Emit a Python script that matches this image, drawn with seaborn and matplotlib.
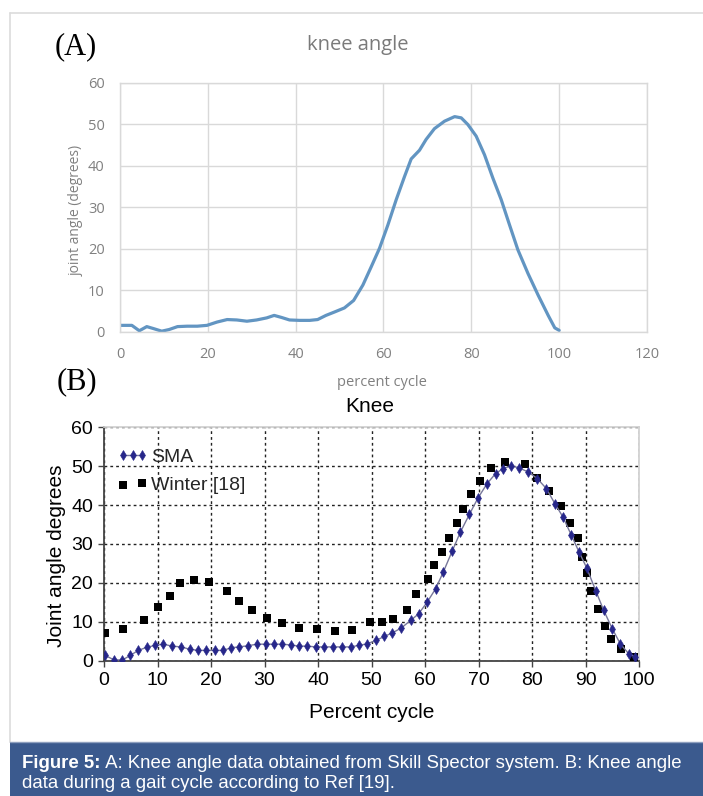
import matplotlib
matplotlib.use("Agg")
import matplotlib.pyplot as plt
from matplotlib.patches import Rectangle
from matplotlib.lines import Line2D
import seaborn as sns
import numpy as np

# ---------------- data ----------------
# Panel A: knee angle (Skill Spector)
a_x = [0.0, 2.7, 4.4, 6.1, 7.7, 9.5, 11.2, 13.1, 15.3, 17.6, 19.8, 22.1, 24.4, 26.6,
       28.9, 31.1, 33.4, 35.1, 36.8, 38.6, 40.9, 43.2, 45.0, 46.9, 48.8, 51.1, 53.2,
       55.3, 57.2, 59.1, 61.0, 62.9, 64.8, 66.3, 68.2, 69.7, 71.6, 73.9, 76.2, 77.7,
       79.2, 81.1, 83.0, 84.9, 86.8, 88.7, 90.6, 92.9, 95.2, 97.5, 99.0, 100.0]
a_y = [1.6, 1.6, 0.3, 1.3, 0.8, 0.2, 0.6, 1.3, 1.4, 1.4, 1.6, 2.4, 3.0, 2.9,
       2.6, 2.9, 3.4, 4.0, 3.5, 2.9, 2.8, 2.8, 3.0, 4.0, 4.8, 5.8, 7.6,
       11.3, 15.7, 20.2, 25.8, 31.9, 37.5, 41.7, 43.8, 46.4, 49.0, 50.8, 51.9, 51.6,
       50.0, 47.2, 42.7, 37.1, 31.9, 25.8, 19.8, 14.1, 8.9, 4.0, 1.0, 0.4]

# Panel B: SMA
sma_x = [0.1, 1.8, 3.4, 4.9, 6.4, 8.0, 9.6, 11.1, 12.7, 14.4, 16.0, 17.6, 19.1, 20.7,
         22.3, 23.8, 25.3, 26.9, 28.6, 30.2, 31.8, 33.3, 34.9, 36.5, 38.0, 39.6, 41.2,
         42.8, 44.4, 46.1, 47.7, 49.2, 50.9, 52.4, 53.9, 55.6, 57.3, 58.8, 60.4, 62.0,
         63.4, 65.1, 66.6, 68.3, 69.9, 71.6, 73.2, 74.5, 76.0, 77.5, 79.3, 81.0, 82.7,
         84.3, 85.8, 87.3, 88.8, 90.2, 91.9, 93.4, 95.0, 96.5, 98.1, 99.3]
sma_y = [1.4, 0.2, 0.1, 1.3, 2.6, 3.4, 3.9, 4.2, 3.7, 3.5, 2.9, 2.6, 2.6, 2.6,
         2.6, 3.3, 3.5, 3.8, 4.2, 4.2, 4.2, 4.2, 4.0, 3.7, 3.7, 3.5, 3.5,
         3.5, 3.5, 3.5, 3.9, 4.3, 5.2, 6.2, 7.1, 8.4, 10.3, 12.0, 15.0, 18.5,
         22.7, 28.2, 33.0, 37.6, 41.8, 45.5, 48.1, 49.3, 50.1, 49.6, 48.5, 46.8, 44.2,
         40.3, 36.9, 32.4, 27.9, 23.9, 18.0, 12.9, 8.2, 4.3, 1.7, 0.9]

# Panel B: Winter [18]
win_x = [0.2, 3.6, 7.4, 10.1, 12.3, 14.2, 16.9, 19.7, 22.9, 25.2, 27.6, 30.5, 33.2,
         36.4, 39.9, 43.1, 46.3, 49.8, 52.0, 54.0, 56.6, 58.4, 60.6, 61.7, 63.1, 64.5,
         66.0, 67.1, 68.6, 70.3, 72.4, 75.0, 78.7, 81.0, 83.1, 85.5, 87.1, 88.6, 89.3,
         90.3, 91.1, 92.4, 93.7, 94.8, 96.7, 99.0]
win_y = [7.2, 8.1, 10.5, 13.8, 16.7, 19.9, 20.6, 20.2, 17.8, 15.2, 13.0, 11.0, 9.7,
         8.3, 8.1, 7.7, 7.8, 9.9, 9.8, 10.6, 13.0, 17.0, 21.0, 24.5, 27.9, 31.4,
         35.4, 39.1, 42.9, 46.2, 49.4, 51.2, 50.5, 47.0, 43.6, 39.7, 35.5, 31.5, 26.6,
         22.5, 18.0, 13.2, 8.8, 5.6, 3.0, 1.0]

a_xticks = [0, 20, 40, 60, 80, 100, 120]
a_yticks = [0, 10, 20, 30, 40, 50, 60]
b_xticks = [0, 10, 20, 30, 40, 50, 60, 70, 80, 90, 100]
b_yticks = [0, 10, 20, 30, 40, 50, 60]

caption_bold = "Figure 5:"
caption_line1 = " A: Knee angle data obtained from Skill Spector system. B: Knee angle"
caption_line2 = "data during a gait cycle according to Ref [19]."

# ---------------- figure ----------------
sns.set_theme(style="white")
plt.rcParams['font.family'] = ['Liberation Sans', 'DejaVu Sans']

W, H = 703, 796
fig = plt.figure(figsize=(W / 100, H / 100), dpi=100)
fig.patch.set_facecolor('white')

def fx(px):
    return px / W

def fy(py):
    return 1 - py / H

# outer light frame
fig.add_artist(Line2D([fx(10), 1], [fy(13), fy(13)], color='#dcdcdc', lw=1.2))
fig.add_artist(Line2D([fx(10), fx(10)], [fy(13), fy(742)], color='#dcdcdc', lw=1.2))

# ---------------- panel A ----------------
gA = '#808080'
fA = ['Open Sans', 'DejaVu Sans']
axA = fig.add_axes([fx(120), fy(332), (647 - 120) / W, (332 - 83) / H])
sns.lineplot(x=a_x, y=a_y, ax=axA, color='#6295c2', lw=2.3, sort=False, estimator=None)
axA.set_xlim(0, 120)
axA.set_ylim(0, 60)
axA.set_xticks(a_xticks)
axA.set_yticks(a_yticks)
axA.grid(True, color='#d9d9d9', lw=1)
for s in axA.spines.values():
    s.set_color('#d9d9d9')
    s.set_linewidth(1)
axA.tick_params(length=0, labelcolor=gA, labelsize=10.5, pad=11)
for lab in axA.get_xticklabels() + axA.get_yticklabels():
    lab.set_family(fA)
axA.set_xlabel('')
axA.set_ylabel('')

fig.text(fx(358), fy(45), 'knee angle', ha='center', va='center', color='#7a7a7a',
         fontsize=14.5, family=fA)
fig.text(fx(382), fy(383), 'percent cycle', ha='center', va='center', color=gA,
         fontsize=10.5, family=fA)
fig.text(fx(76), fy(210), 'joint angle (degrees)', ha='center', va='center', color=gA,
         fontsize=10, family=fA, rotation=90)
fig.text(fx(76), fy(47), '(A)', ha='center', va='center', color='black',
         fontsize=22, family=['Liberation Serif', 'DejaVu Serif'])
fig.text(fx(77), fy(382), '(B)', ha='center', va='center', color='black',
         fontsize=22, family=['Liberation Serif', 'DejaVu Serif'])

# ---------------- panel B ----------------
fB = ['Liberation Sans', 'DejaVu Sans']
axB = fig.add_axes([fx(104), fy(660.5), (639 - 104) / W, (660.5 - 427.3) / H])
axB.set_facecolor('white')
sns.lineplot(x=sma_x, y=sma_y, ax=axB, color='#77779a', lw=1.0, marker='d',
             markersize=5, markerfacecolor='#27278a', markeredgecolor='#27278a',
             markeredgewidth=0.4, sort=False, estimator=None, label='SMA', zorder=4)
sns.scatterplot(x=win_x, y=win_y, ax=axB, marker='s', s=34, color='black',
                linewidth=0, label='Winter [18]', zorder=3)
axB.set_xlim(0, 100)
axB.set_ylim(0, 60)
axB.set_xticks(b_xticks)
axB.set_yticks(b_yticks)
axB.grid(True, color='#222222', lw=1.0, ls=(0, (2, 2.2)))
axB.spines['left'].set_color('#444444')
axB.spines['bottom'].set_color('#444444')
axB.spines['left'].set_linewidth(1.3)
axB.spines['bottom'].set_linewidth(1.3)
axB.spines['top'].set_color('#d0d0d0')
axB.spines['right'].set_color('#d0d0d0')
axB.tick_params(axis='both', which='major', length=4, width=1, color='#444444',
                direction='out', labelsize=14, labelcolor='black', pad=4,
                bottom=True, left=True)
for lab in axB.get_xticklabels() + axB.get_yticklabels():
    lab.set_family(fB)
axB.set_xlabel('')
axB.set_ylabel('')

leg = axB.legend(loc='upper left', bbox_to_anchor=(fx(117), fy(448)),
                 bbox_transform=fig.transFigure, frameon=False, numpoints=3,
                 scatterpoints=2, handlelength=1.6, handletextpad=0.15,
                 labelspacing=0.55, borderpad=0, borderaxespad=0,
                 prop={'family': fB, 'size': 14})

fig.text(fx(370), fy(407), 'Knee', ha='center', va='center', color='black',
         fontsize=15, family=fB)
fig.text(fx(372), fy(712), 'Percent cycle', ha='center', va='center', color='black',
         fontsize=15, family=fB)
fig.text(fx(56), fy(556), 'Joint angle degrees', ha='center', va='center', color='black',
         fontsize=15, family=fB, rotation=90)

# ---------------- caption ----------------
fig.add_artist(Rectangle((fx(10), 0), 1 - fx(10), (796 - 742) / H,
                         transform=fig.transFigure, facecolor='#3b5a8e',
                         edgecolor='none', zorder=0))
fig.add_artist(Line2D([fx(10), 1], [fy(742), fy(742)], color='#8fa0bf', lw=1))
cap_fs = 13.4
t1 = fig.text(fx(22), fy(763), caption_bold, ha='left', va='center', color='white',
              fontsize=cap_fs, fontweight='bold', family=['Liberation Sans'])
renderer = fig.canvas.get_renderer()
bb = t1.get_window_extent(renderer=renderer)
fig.text(bb.x1 / W, fy(763), caption_line1, ha='left', va='center', color='white',
         fontsize=cap_fs, family=['Liberation Sans'])
fig.text(fx(22), fy(784), caption_line2, ha='left', va='center', color='white',
         fontsize=cap_fs, family=['Liberation Sans'])

fig.savefig('out.png', dpi=100)
